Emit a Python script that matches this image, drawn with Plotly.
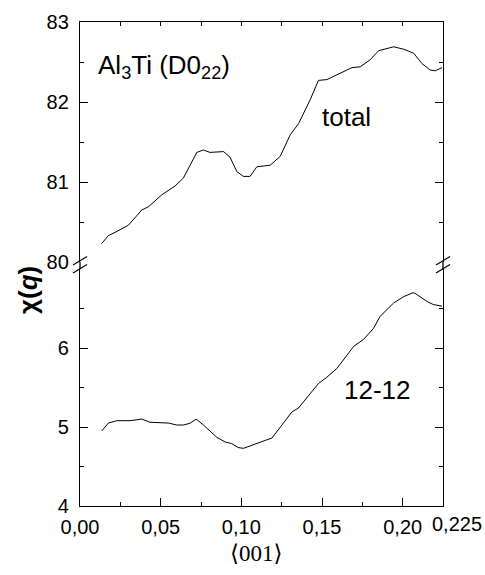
import plotly.graph_objects as go

# ---- data ----
total_x = [0.0134, 0.0176, 0.0217, 0.030, 0.0383, 0.0424, 0.0507, 0.0589, 0.0641,
           0.0724, 0.0765, 0.0806, 0.089, 0.093, 0.0972, 0.1013, 0.1054, 0.1096,
           0.1179, 0.1241, 0.1303, 0.1355, 0.1427, 0.1478, 0.153, 0.1613, 0.1686,
           0.1737, 0.180, 0.185, 0.1944, 0.2006, 0.2068, 0.212, 0.217, 0.2202, 0.2244]
total_y = [80.23, 80.33, 80.37, 80.46, 80.65, 80.69, 80.84, 80.95, 81.05,
           81.37, 81.40, 81.37, 81.38, 81.31, 81.13, 81.07, 81.07, 81.19,
           81.21, 81.32, 81.59, 81.73, 82.03, 82.27, 82.28, 82.36, 82.43,
           82.44, 82.53, 82.64, 82.69, 82.66, 82.61, 82.48, 82.40, 82.39, 82.43]

pair_x = [0.0135, 0.0176, 0.0228, 0.031, 0.0383, 0.0434, 0.0548, 0.060, 0.0641,
          0.0682, 0.072, 0.0765, 0.0848, 0.090, 0.094, 0.098, 0.1013, 0.1075,
          0.1117, 0.1148, 0.119, 0.124, 0.1313, 0.1354, 0.1427, 0.1478, 0.153,
          0.1592, 0.1696, 0.1758, 0.182, 0.186, 0.1944, 0.2006, 0.2064, 0.2078,
          0.215, 0.219, 0.2244]
pair_y = [4.95, 5.05, 5.08, 5.08, 5.10, 5.06, 5.05, 5.025, 5.025,
          5.047, 5.10, 5.025, 4.87, 4.81, 4.79, 4.74, 4.73, 4.78,
          4.81, 4.83, 4.86, 5.00, 5.19, 5.24, 5.43, 5.55, 5.63,
          5.74, 6.02, 6.11, 6.25, 6.40, 6.57, 6.65, 6.70, 6.69,
          6.59, 6.55, 6.53]

x_tickvals = [0, 0.05, 0.10, 0.15, 0.20, 0.225]
x_ticktext = ["0,00", "0,05", "0,10", "0,15", "0,20", ""]
x_last_label = "0,225"
top_tickvals = [80, 81, 82, 83]
bot_tickvals = [4, 5, 6]

# ---- figure ----
W, H = 485, 575
L, R, T, B = 80, 42, 22, 69
ph = H - T - B
top_lo = (H - B - 262) / ph
bot_hi = (H - B - 269) / ph

fig = go.Figure()
fig.add_trace(go.Scatter(x=total_x, y=total_y, mode="lines", xaxis="x", yaxis="y",
                         line=dict(color="black", width=1), showlegend=False))
fig.add_trace(go.Scatter(x=pair_x, y=pair_y, mode="lines", xaxis="x2", yaxis="y2",
                         line=dict(color="black", width=1), showlegend=False))

tfont = dict(family="Liberation Sans, Arial, sans-serif", size=20, color="black")
common_y = dict(showline=True, linecolor="black", linewidth=1.3, mirror="ticks",
                ticks="inside", ticklen=8, tickwidth=1, tickcolor="black",
                showgrid=False, zeroline=False, tickfont=tfont, ticklabelstandoff=6,
                automargin=False,
                minor=dict(ticks="inside", ticklen=4, dtick=0.5, tickcolor="black", showgrid=False))

fig.update_layout(
    width=W, height=H, margin=dict(l=L, r=R, t=T, b=B),
    plot_bgcolor="white", paper_bgcolor="white",
    xaxis=dict(domain=[0, 1], anchor="y", side="top", range=[0, 0.225],
               showline=True, linecolor="black", linewidth=1.3, showticklabels=False,
               ticks="inside", ticklen=4, tickcolor="black", tickvals=x_tickvals,
               minor=dict(ticks="inside", ticklen=4, dtick=0.025, tickcolor="black", showgrid=False),
               showgrid=False, zeroline=False, automargin=False),
    xaxis2=dict(domain=[0, 1], anchor="y2", side="bottom", range=[0, 0.225], showline=True,
                linecolor="black", linewidth=1.3, ticks="inside", ticklen=8, tickcolor="black",
                tickvals=x_tickvals, ticktext=x_ticktext, tickfont=tfont, tickangle=0,
                ticklabelstandoff=3, automargin=False,
                minor=dict(ticks="inside", ticklen=4, dtick=0.025, tickcolor="black", showgrid=False),
                showgrid=False, zeroline=False),
    yaxis=dict(domain=[top_lo, 1], anchor="x", range=[80, 83], tickvals=top_tickvals, **common_y),
    yaxis2=dict(domain=[0, bot_hi], anchor="x2", range=[4, 7], tickvals=bot_tickvals, **common_y),
)


def px_x(p):
    return (p - L) / (W - L - R)


def px_y(p):
    return (H - B - p) / ph


# last x tick label, nudged right as in the original
fig.add_annotation(xref="x2", yref="paper", x=x_tickvals[-1], y=px_y(524), yanchor="middle",
                   xanchor="left", xshift=-13, text=x_last_label, showarrow=False, font=tfont)

# axis break connectors and marks
for ax in (80, 443):
    fig.add_shape(type="line", xref="paper", yref="paper",
                  x0=px_x(ax), x1=px_x(ax), y0=px_y(262), y1=px_y(269),
                  line=dict(color="black", width=1.3))
    for y0 in (265, 273):
        fig.add_shape(type="line", xref="paper", yref="paper",
                      x0=px_x(ax - 7), x1=px_x(ax + 7), y0=px_y(y0), y1=px_y(y0 - 8.5),
                      line=dict(color="black", width=1.2))

afont = dict(family="Liberation Sans, Arial, sans-serif", size=26, color="black")
fig.add_annotation(xref="paper", yref="paper", x=px_x(96), y=px_y(66), xanchor="left",
                   yanchor="middle", text="Al<sub>3</sub>Ti (D0<sub>22</sub>)",
                   showarrow=False, font=afont)
fig.add_annotation(xref="paper", yref="paper", x=px_x(346), y=px_y(117), xanchor="center",
                   yanchor="middle", text="total", showarrow=False, font=afont)
fig.add_annotation(xref="paper", yref="paper", x=px_x(377), y=px_y(390), xanchor="center",
                   yanchor="middle", text="12-12", showarrow=False, font=afont)
fig.add_annotation(xref="paper", yref="paper", x=px_x(28), y=px_y(290), xanchor="center",
                   yanchor="middle", text="<b>χ(<i>q</i>)</b>", textangle=-90,
                   showarrow=False, font=dict(family="Liberation Sans, Arial, sans-serif",
                                              size=26, color="black"))
fig.add_annotation(xref="paper", yref="paper", x=px_x(256), y=px_y(553), xanchor="center",
                   yanchor="middle", text="⟨001⟩", showarrow=False,
                   font=dict(family="Liberation Serif, DejaVu Serif, serif", size=23, color="black"))

fig.write_html("out.html")
